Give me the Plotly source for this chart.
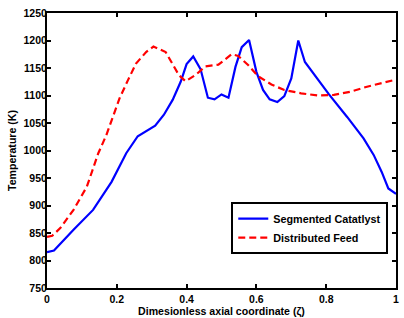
import plotly.graph_objects as go

seg_x = [0, 0.02, 0.076, 0.132, 0.185, 0.227, 0.26, 0.31, 0.335, 0.36, 0.383, 0.40, 0.419, 0.44, 0.461,
         0.48, 0.50, 0.52, 0.54, 0.558, 0.579, 0.60, 0.619, 0.638, 0.66, 0.68, 0.70, 0.72, 0.739,
         0.775, 0.808, 0.86, 0.907, 0.936, 0.959, 0.978, 1.0]
seg_y = [815, 818, 856, 892, 943, 995, 1026, 1045, 1065, 1092, 1125, 1157, 1171, 1148, 1096,
         1093, 1102, 1096, 1152, 1188, 1201, 1143, 1110, 1093, 1088, 1099, 1131, 1200, 1161,
         1131, 1102, 1061, 1022, 992, 961, 931, 921]

dist_x = [0, 0.015, 0.038, 0.076, 0.114, 0.147, 0.17, 0.185, 0.208, 0.232, 0.255, 0.284, 0.305,
          0.34, 0.359, 0.378, 0.397, 0.425, 0.454, 0.491, 0.529, 0.548, 0.577, 0.605, 0.643,
          0.68, 0.728, 0.775, 0.822, 0.87, 0.917, 0.964, 1.0]
dist_y = [843, 845, 859, 892, 934, 995, 1028, 1055, 1095, 1128, 1158, 1179, 1189,
          1179, 1158, 1137, 1126, 1137, 1153, 1156, 1175, 1172, 1155, 1135, 1120,
          1110, 1104, 1100, 1101, 1107, 1116, 1124, 1129]

x_ticks = [0, 0.2, 0.4, 0.6, 0.8, 1]
x_labels = ["0", "0.2", "0.4", "0.6", "0.8", "1"]
y_ticks = list(range(750, 1251, 50))

FONT = "Arial, 'Liberation Sans', sans-serif"

fig = go.Figure()
fig.add_trace(go.Scatter(x=seg_x, y=seg_y, mode="lines", name="Segmented Catatlyst",
                         line=dict(color="#0000FF", width=2.2)))
fig.add_trace(go.Scatter(x=dist_x, y=dist_y, mode="lines", name="Distributed Feed",
                         line=dict(color="#FF0000", width=2.2, dash="7px,4px")))

axis_common = dict(showline=True, linecolor="black", linewidth=2, mirror="ticks",
                   ticks="inside", ticklen=4, tickwidth=1.5, tickcolor="black",
                   showgrid=False, zeroline=False,
                   tickfont=dict(family=FONT, size=10.5, color="black", weight="bold"))

fig.update_xaxes(range=[0, 1], tickvals=x_ticks, ticktext=x_labels, ticklabelstandoff=0,
                 title=dict(text="Dimesionless axial coordinate (ζ)", standoff=1,
                            font=dict(family=FONT, size=10.6, color="black", weight="bold")),
                 **axis_common)
fig.update_yaxes(range=[750, 1250], tickvals=y_ticks, ticklabelstandoff=-4,
                 title=dict(text="Temperature (K)", standoff=5,
                            font=dict(family=FONT, size=10.6, color="black", weight="bold")),
                 **axis_common)

fig.update_layout(
    width=404, height=318,
    margin=dict(l=47, r=5, t=13, b=30),
    paper_bgcolor="white", plot_bgcolor="white",
    showlegend=True,
    legend=dict(x=0.528, y=0.312, xanchor="left", yanchor="top",
                bgcolor="white", bordercolor="black", borderwidth=2,
                font=dict(family=FONT, size=10.8, color="black", weight="bold"),
                tracegroupgap=0, itemwidth=30),
)

fig.write_html("out.html", config={"displayModeBar": False},
               post_script="document.body.style.margin='0';document.body.style.overflow='hidden';")
